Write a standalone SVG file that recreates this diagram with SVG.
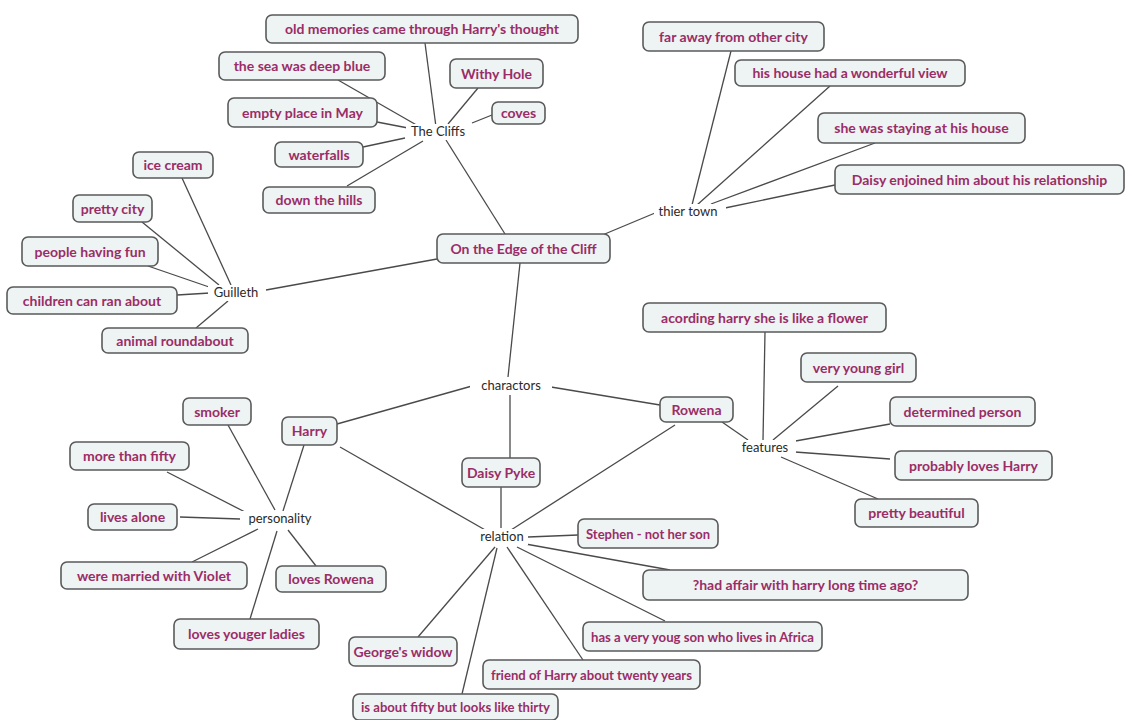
<svg xmlns="http://www.w3.org/2000/svg" width="1125" height="720" viewBox="0 0 1125 720">
<style>
.b rect{fill:#eef3f4;stroke:#5a5a5a;stroke-width:1.6}
.b text{font-family:Lato,"Liberation Sans",Arial,sans-serif;font-size:14px;font-weight:bold;fill:#9a2d66;text-anchor:middle}
.h text{font-family:Lato,"Liberation Sans",Arial,sans-serif;font-size:13px;fill:#2a2a2a;text-anchor:middle}
#connectors line{stroke:#4a4a4a;stroke-width:1.3}
</style>
<rect width="1125" height="720" fill="#ffffff"/>
<g id="connectors">
<line x1="505" y1="234" x2="446" y2="140"/>
<line x1="600" y1="236" x2="655" y2="213"/>
<line x1="437" y1="259" x2="266" y2="290"/>
<line x1="520" y1="263" x2="508" y2="377"/>
<line x1="425" y1="43" x2="436" y2="127"/>
<line x1="338" y1="80" x2="420" y2="127"/>
<line x1="478" y1="88" x2="448" y2="124"/>
<line x1="492" y1="115" x2="472" y2="123"/>
<line x1="377" y1="122" x2="408" y2="128"/>
<line x1="363" y1="147" x2="405" y2="138"/>
<line x1="347" y1="186" x2="423" y2="141"/>
<line x1="731" y1="51" x2="692" y2="205"/>
<line x1="830" y1="86" x2="697" y2="205"/>
<line x1="875" y1="143" x2="711" y2="204"/>
<line x1="835" y1="185" x2="725" y2="208"/>
<line x1="182" y1="178" x2="231" y2="285"/>
<line x1="142" y1="222" x2="219" y2="285"/>
<line x1="148" y1="266" x2="212" y2="288"/>
<line x1="177" y1="295" x2="210" y2="293"/>
<line x1="196" y1="328" x2="228" y2="301"/>
<line x1="337" y1="424" x2="472" y2="386"/>
<line x1="660" y1="405" x2="551" y2="387"/>
<line x1="510" y1="458" x2="510" y2="395"/>
<line x1="304" y1="445" x2="283" y2="511"/>
<line x1="340" y1="447" x2="487" y2="531"/>
<line x1="228" y1="425" x2="275" y2="510"/>
<line x1="167" y1="472" x2="245" y2="512"/>
<line x1="180" y1="517" x2="240" y2="519"/>
<line x1="192" y1="562" x2="258" y2="529"/>
<line x1="316" y1="566" x2="288" y2="530"/>
<line x1="250" y1="619" x2="277" y2="531"/>
<line x1="722" y1="422" x2="748" y2="440"/>
<line x1="675" y1="425" x2="511" y2="530"/>
<line x1="765" y1="332" x2="763" y2="440"/>
<line x1="838" y1="386" x2="773" y2="440"/>
<line x1="890" y1="424" x2="790" y2="442"/>
<line x1="890" y1="459" x2="795" y2="452"/>
<line x1="878" y1="499" x2="781" y2="457"/>
<line x1="501" y1="487" x2="501" y2="528"/>
<line x1="578" y1="535" x2="528" y2="537"/>
<line x1="670" y1="570" x2="520" y2="543"/>
<line x1="665" y1="621" x2="517" y2="547"/>
<line x1="583" y1="660" x2="507" y2="547"/>
<line x1="418" y1="637" x2="495" y2="547"/>
<line x1="462" y1="694" x2="497" y2="548"/>
</g>
<g id="n-edge" class="b"><rect x="437" y="234" width="173" height="29" rx="6"/><text x="523.5" y="253.5">On the Edge of the Cliff</text></g>
<g id="n-cliffs" class="h"><rect x="406" y="124" width="66" height="16" fill="#fff"/><text x="438" y="136">The Cliffs</text></g>
<g id="n-oldmem" class="b"><rect x="266" y="15" width="312" height="28" rx="6"/><text x="422" y="34">old memories came through Harry's thought</text></g>
<g id="n-sea" class="b"><rect x="219" y="52" width="166" height="28" rx="6"/><text x="302" y="71">the sea was deep blue</text></g>
<g id="n-withy" class="b"><rect x="450" y="59" width="93" height="29" rx="6"/><text x="496.5" y="78.5">Withy Hole</text></g>
<g id="n-coves" class="b"><rect x="492" y="102" width="53" height="22" rx="6"/><text x="518.5" y="118">coves</text></g>
<g id="n-empty" class="b"><rect x="228" y="98" width="149" height="29" rx="6"/><text x="302.5" y="117.5">empty place in May</text></g>
<g id="n-waterfalls" class="b"><rect x="275" y="142" width="88" height="25" rx="6"/><text x="319" y="159.5">waterfalls</text></g>
<g id="n-hills" class="b"><rect x="263" y="187" width="112" height="26" rx="6"/><text x="319" y="205">down the hills</text></g>
<g id="n-town" class="h"><rect x="654" y="204" width="72" height="16" fill="#fff"/><text x="688" y="216">thier town</text></g>
<g id="n-faraway" class="b"><rect x="643" y="22" width="181" height="29" rx="6"/><text x="733.5" y="41.5">far away from other city</text></g>
<g id="n-view" class="b"><rect x="735" y="60" width="230" height="26" rx="6"/><text x="850" y="78">his house had a wonderful view</text></g>
<g id="n-staying" class="b"><rect x="818" y="113" width="207" height="30" rx="6"/><text x="921.5" y="133">she was staying at his house</text></g>
<g id="n-enjoined" class="b"><rect x="835" y="165" width="289" height="29" rx="6"/><text x="979.5" y="184.5">Daisy enjoined him about his relationship</text></g>
<g id="n-guilleth" class="h"><rect x="208" y="285" width="56" height="16" fill="#fff"/><text x="236" y="297">Guilleth</text></g>
<g id="n-icecream" class="b"><rect x="133" y="152" width="80" height="26" rx="6"/><text x="173" y="170">ice cream</text></g>
<g id="n-prettycity" class="b"><rect x="73" y="195" width="79" height="27" rx="6"/><text x="112.5" y="213.5">pretty city</text></g>
<g id="n-fun" class="b"><rect x="22" y="237" width="136" height="29" rx="6"/><text x="90" y="256.5">people having fun</text></g>
<g id="n-children" class="b"><rect x="7" y="287" width="170" height="27" rx="6"/><text x="92" y="305.5">children can ran about</text></g>
<g id="n-animal" class="b"><rect x="102" y="328" width="146" height="25" rx="6"/><text x="175" y="345.5">animal roundabout</text></g>
<g id="n-charactors" class="h"><rect x="470" y="378" width="82" height="16" fill="#fff"/><text x="511" y="390">charactors</text></g>
<g id="n-harry" class="b"><rect x="282" y="417" width="55" height="28" rx="6"/><text x="309.5" y="436">Harry</text></g>
<g id="n-rowena" class="b"><rect x="660" y="397" width="73" height="25" rx="6"/><text x="696.5" y="414.5">Rowena</text></g>
<g id="n-daisy" class="b"><rect x="462" y="458" width="78" height="29" rx="6"/><text x="501" y="477.5">Daisy Pyke</text></g>
<g id="n-personality" class="h"><rect x="242" y="511" width="76" height="16" fill="#fff"/><text x="280" y="523">personality</text></g>
<g id="n-smoker" class="b"><rect x="183" y="398" width="68" height="27" rx="6"/><text x="217" y="416.5">smoker</text></g>
<g id="n-fifty" class="b"><rect x="70" y="442" width="119" height="28" rx="6"/><text x="129.5" y="461">more than fifty</text></g>
<g id="n-alone" class="b"><rect x="88" y="504" width="89" height="26" rx="6"/><text x="132.5" y="522">lives alone</text></g>
<g id="n-violet" class="b"><rect x="61" y="562" width="186" height="27" rx="6"/><text x="154" y="580.5">were married with Violet</text></g>
<g id="n-lovesrowena" class="b"><rect x="276" y="566" width="110" height="26" rx="6"/><text x="331" y="584">loves Rowena</text></g>
<g id="n-ladies" class="b"><rect x="174" y="619" width="145" height="30" rx="6"/><text x="246.5" y="639">loves youger ladies</text></g>
<g id="n-features" class="h"><rect x="736" y="440" width="60" height="16" fill="#fff"/><text x="765" y="452">features</text></g>
<g id="n-flower" class="b"><rect x="643" y="303" width="243" height="29" rx="6"/><text x="764.5" y="322.5">acording harry she is like a flower</text></g>
<g id="n-younggirl" class="b"><rect x="801" y="353" width="115" height="29" rx="6"/><text x="858.5" y="372.5">very young girl</text></g>
<g id="n-determined" class="b"><rect x="890" y="397" width="145" height="29" rx="6"/><text x="962.5" y="416.5">determined person</text></g>
<g id="n-lovesharry" class="b"><rect x="895" y="451" width="157" height="29" rx="6"/><text x="973.5" y="470.5">probably loves Harry</text></g>
<g id="n-beautiful" class="b"><rect x="855" y="499" width="123" height="28" rx="6"/><text x="916.5" y="518">pretty beautiful</text></g>
<g id="n-relation" class="h"><rect x="478" y="529" width="50" height="16" fill="#fff"/><text x="502" y="541">relation</text></g>
<g id="n-stephen" class="b"><rect x="578" y="519" width="140" height="29" rx="6"/><text x="648" y="538.5" textLength="124" lengthAdjust="spacingAndGlyphs">Stephen - not her son</text></g>
<g id="n-affair" class="b"><rect x="643" y="570" width="325" height="30" rx="6"/><text x="805.5" y="590">?had affair with harry long time ago?</text></g>
<g id="n-africa" class="b"><rect x="583" y="622" width="239" height="29" rx="6"/><text x="702.5" y="641.5" textLength="223" lengthAdjust="spacingAndGlyphs">has a very youg son who lives in Africa</text></g>
<g id="n-george" class="b"><rect x="349" y="637" width="108" height="29" rx="6"/><text x="403" y="656.5">George's widow</text></g>
<g id="n-friend" class="b"><rect x="483" y="660" width="217" height="29" rx="6"/><text x="591.5" y="679.5" textLength="201" lengthAdjust="spacingAndGlyphs">friend of Harry about twenty years</text></g>
<g id="n-thirty" class="b"><rect x="353" y="694" width="205" height="26" rx="6"/><text x="455.5" y="712" textLength="189" lengthAdjust="spacingAndGlyphs">is about fifty but looks like thirty</text></g>
</svg>
